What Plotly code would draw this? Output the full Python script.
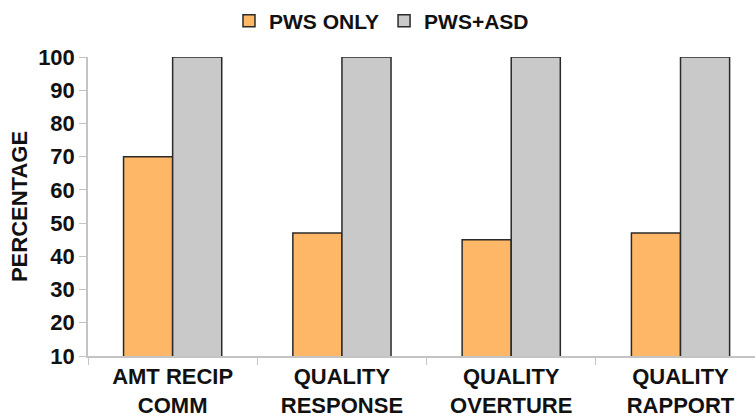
import plotly.graph_objects as go

categories = ["AMT RECIP<br>COMM", "QUALITY<br>RESPONSE", "QUALITY<br>OVERTURE", "QUALITY<br>RAPPORT"]
pws_only = [70, 47, 45, 47]
pws_asd = [100, 100, 100, 100]
y_ticks = [10, 20, 30, 40, 50, 60, 70, 80, 90, 100]

FONT = "Arial, Liberation Sans, Helvetica, sans-serif"
outline = dict(color="#2a2a2a", width=1.5)

fig = go.Figure()
fig.add_trace(go.Bar(name="PWS ONLY", x=categories, y=pws_only,
                     marker=dict(color="#FDB766", line=outline)))
fig.add_trace(go.Bar(name="PWS+ASD", x=categories, y=pws_asd,
                     marker=dict(color="#C9C9C9", line=outline)))

fig.update_layout(
    width=755, height=418,
    margin=dict(l=88, r=0, t=57, b=62),
    paper_bgcolor="white", plot_bgcolor="white",
    barmode="group", bargap=0.42, bargroupgap=0,
    font=dict(family=FONT, size=22, color="#111111", weight="bold"),
    legend=dict(orientation="h", x=0.44, xanchor="center", y=1.12, yanchor="middle",
                font=dict(size=21, weight="bold"), itemwidth=30,
                traceorder="normal", bgcolor="rgba(0,0,0,0)"),
    showlegend=True,
)
fig.update_xaxes(
    range=[-0.5, 3.44], showline=True, linecolor="#c4c4c4", linewidth=1.5,
    ticks="outside", tickson="boundaries", ticklen=7, tickcolor="#c4c4c4",
    tickfont=dict(size=22, weight="bold"), showgrid=False, zeroline=False,
)
fig.update_yaxes(
    range=[10, 100], tickvals=y_ticks, showline=True, linecolor="#c4c4c4", linewidth=1.5,
    ticks="outside", ticklen=7, tickcolor="#c4c4c4", showgrid=False, zeroline=False,
    tickfont=dict(size=22, weight="bold"),
    title=dict(text="PERCENTAGE", font=dict(size=22, weight="bold"), standoff=4),
)

fig.write_html("out.html")
